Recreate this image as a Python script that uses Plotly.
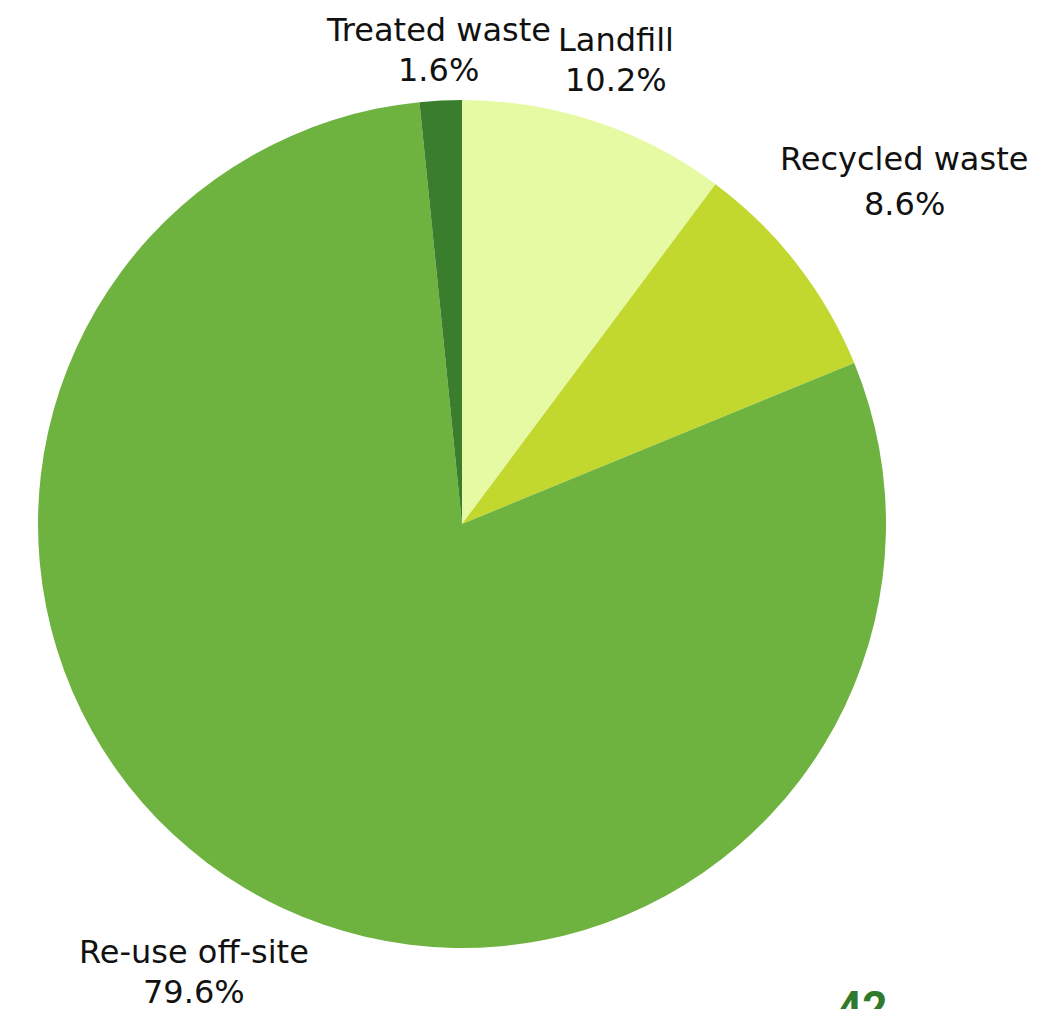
import plotly.graph_objects as go

categories = ["Landfill", "Recycled waste", "Re-use off-site", "Treated waste"]
values = [10.2, 8.6, 79.6, 1.6]
colors = ["#E6F9A3", "#C2D82F", "#6EB240", "#3A7D2C"]
pct_labels = ["10.2%", "8.6%", "79.6%", "1.6%"]

W, H = 1057, 1009

fig = go.Figure(go.Pie(
    labels=categories,
    values=values,
    sort=False,
    direction="clockwise",
    rotation=0,
    marker=dict(colors=colors, line=dict(width=0)),
    textinfo="none",
    hoverinfo="label+percent",
    showlegend=False,
    domain=dict(x=[30 / W, 878 / W], y=[1 - 940 / H, 1 - 92 / H]),
))

# label line positions in pixels: (center x, name line y, percent line y)
label_pos = {
    "Treated waste": (438, 30, 70),
    "Landfill": (616, 40, 80),
    "Recycled waste": (904, 159, 204),
    "Re-use off-site": (194, 952, 992),
}
font = dict(family="DejaVu Sans", size=32, color="#111111")
offx, offy = 8, 8
for cat, pct in zip(categories, pct_labels):
    x, y1, y2 = label_pos[cat]
    for txt, yy in ((cat, y1), (pct, y2)):
        fig.add_annotation(
            x=(x - offx) / W, y=1 - (yy - offy) / H, xref="paper", yref="paper",
            text=txt, showarrow=False,
            xanchor="center", yanchor="middle", font=font, align="center",
        )

fig.add_annotation(
    x=854 / W, y=1 - 972 / H, xref="paper", yref="paper",
    text="<b>42</b>", showarrow=False, xanchor="center", yanchor="top",
    font=dict(family="Roboto", size=44, color="#2F7A2B"),
)

fig.update_layout(
    width=W, height=H,
    margin=dict(l=0, r=0, t=0, b=0),
    paper_bgcolor="white", plot_bgcolor="white",
)

fig.write_html("out.html")
